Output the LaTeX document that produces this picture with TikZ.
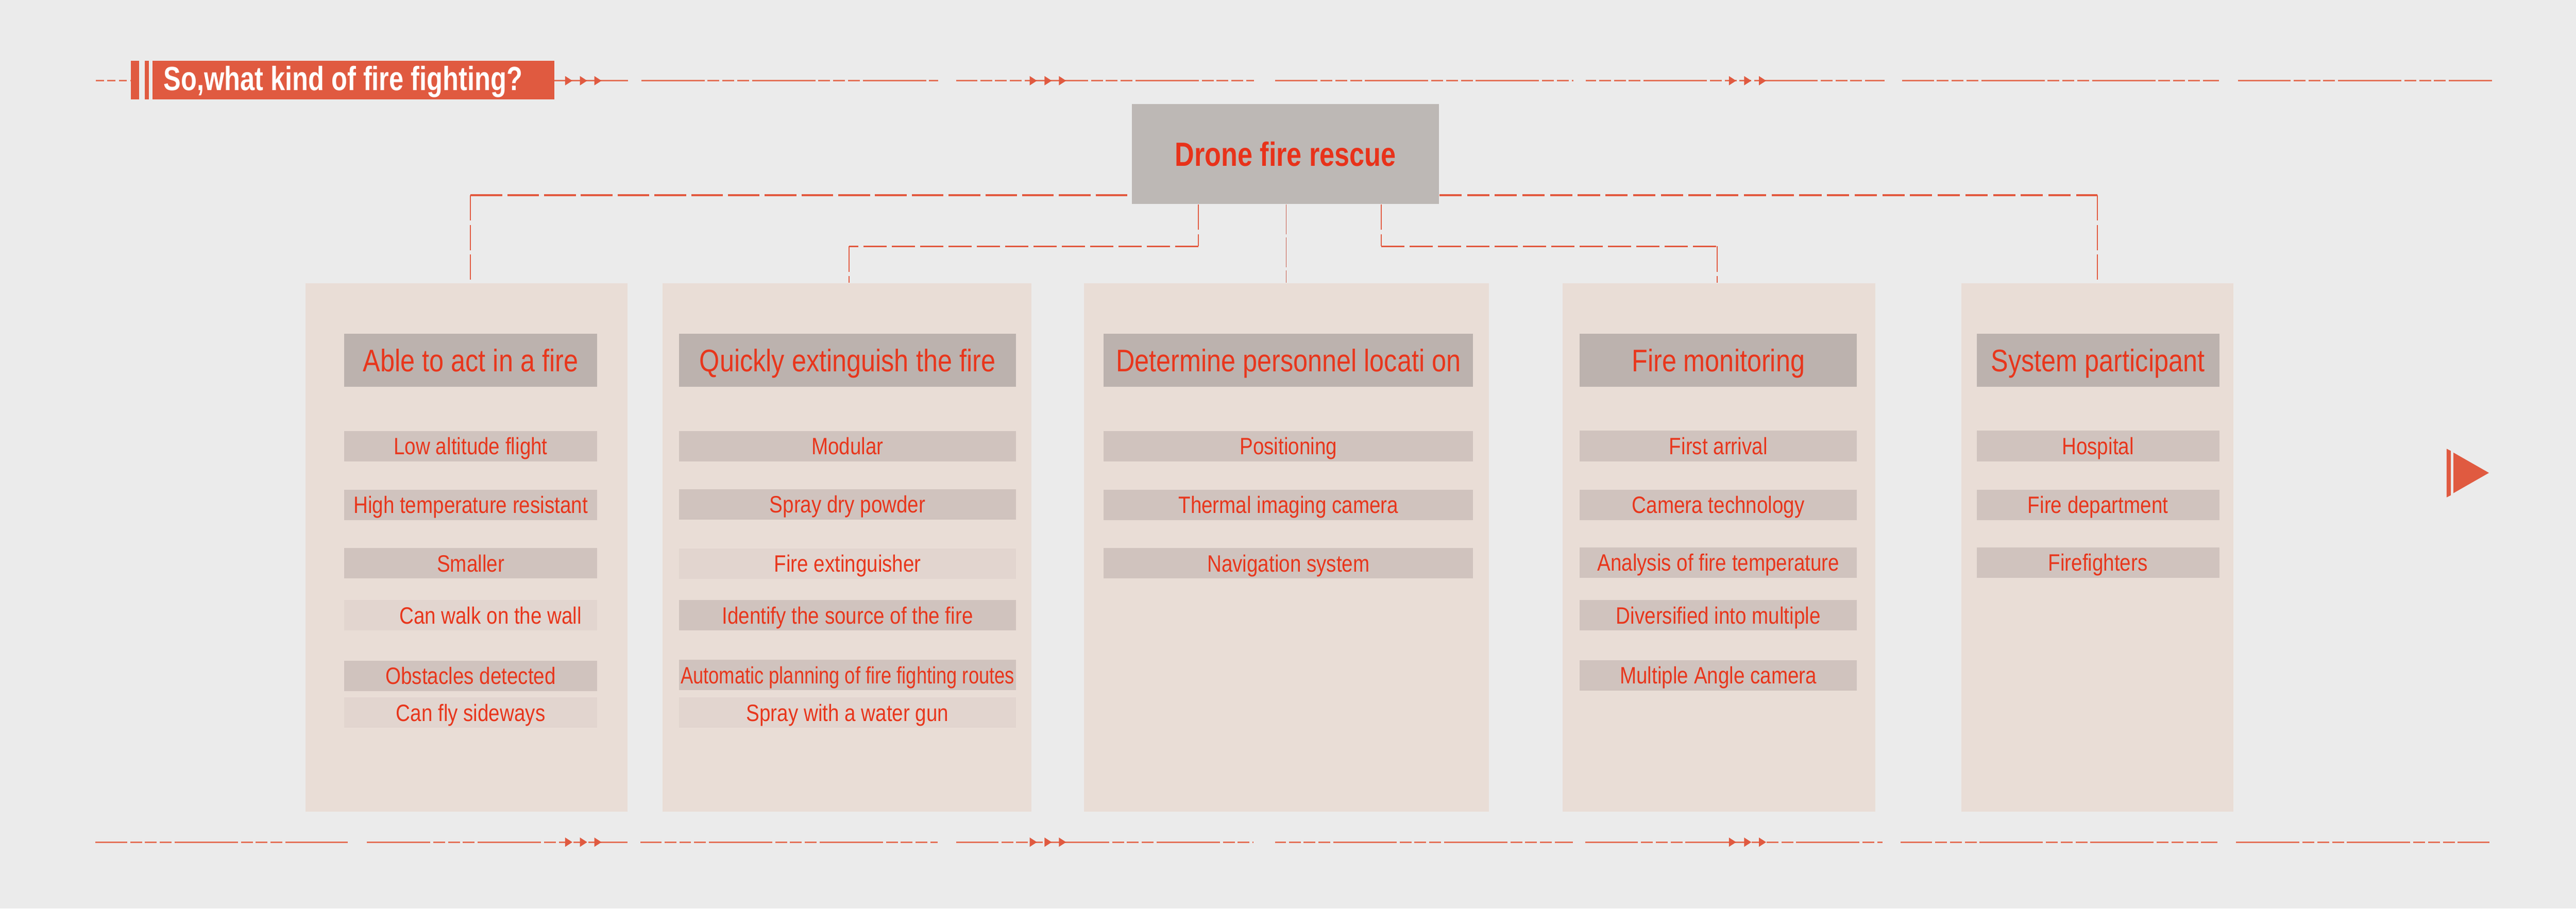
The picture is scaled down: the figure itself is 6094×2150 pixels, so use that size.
\documentclass[tikz,border=0pt]{standalone}
\usepackage{fontspec}
\setmainfont{Liberation Sans}
\newfontfamily\itemf{Liberation Sans}[FakeStretch=0.84]
\newfontfamily\itemnarrow{Liberation Sans}[FakeStretch=0.79]
\newfontfamily\headf{Liberation Sans}[FakeStretch=0.83]
\newfontfamily\dronef{Liberation Sans}[FakeStretch=0.80]
\newfontfamily\titlef{Liberation Sans}[FakeStretch=0.775]
\definecolor{bgc}{HTML}{EBEBEB}
\definecolor{colc}{HTML}{E9DDD6}
\definecolor{headc}{HTML}{BCB2AE}
\definecolor{dronec}{HTML}{BDB8B5}
\definecolor{itemd}{HTML}{D0C3BE}
\definecolor{iteml}{HTML}{E2D5CF}
\definecolor{txtr}{HTML}{E8361C}
\definecolor{droner}{HTML}{E8321A}
\definecolor{accent}{HTML}{E05A40}
\definecolor{decoc}{HTML}{E4735A}
\definecolor{connc}{HTML}{E25A40}
\definecolor{connmid}{HTML}{C85A48}
\begin{document}
\begin{tikzpicture}[x=0.2pt,y=-0.2pt,
  colbg/.style={fill=colc, inner sep=0pt, minimum height=250.2pt},
  hbox/.style={fill=headc, inner sep=0pt, minimum height=25pt, text=txtr,
    font=\headf\fontsize{14.8}{16}\selectfont, text height=10.6pt, text depth=0pt},
  ibox/.style={fill=itemd, inner sep=0pt, minimum height=14.4pt, text=txtr,
    font=\itemf\fontsize{11.2}{13}\selectfont, text height=8pt, text depth=0pt},
  ilight/.style={ibox, fill=iteml},
  wA/.style={minimum width=119.8pt},
  wB/.style={minimum width=159.6pt},
  wC/.style={minimum width=174.8pt},
  wD/.style={minimum width=131.2pt},
  wE/.style={minimum width=114.8pt},
  deco/.style={draw=decoc, line width=0.72pt,
    dash pattern=on 30pt off 1.4pt on 5.6pt off 1.4pt on 5.6pt off 1.4pt on 5.6pt off 1.4pt},
  tri/.style={fill=accent},
  hup/.style={draw=connc, line width=0.85pt, dash pattern=on 15pt off 2.4pt},
  hupr/.style={draw=connc, line width=0.85pt, dash pattern=on 10.5pt off 2.6pt},
  hlow/.style={draw=connc, line width=0.85pt, dash pattern=on 11pt off 2.4pt},
  vline/.style={draw=connc, line width=0.5pt, dash pattern=on 12pt off 2pt},
  vmid/.style={draw=connmid, line width=0.35pt, dash pattern=on 14pt off 1.6pt}
]
\useasboundingbox (0,0) rectangle (6094,2150);
\fill[bgc] (0,0) rectangle (6094,2150);

% decorative top and bottom lines
\draw[draw=decoc, line width=0.72pt, dash pattern=on 3.8pt off 1.6pt] (227,191) -- (312,191);
\draw[draw=decoc, line width=0.72pt] (1312,191) -- (1486,191);
\foreach \a/\b/\p in {1517/2219/0, 2262/2966/20, 3017/3722/10, 3751/4458/25, 4500/5249/15, 5294/5895/5}
  {\draw[deco, dash phase=\p pt] (\a,191) -- (\b,191);}
\foreach \a/\b/\p in {226/823/15, 868/1485/0, 1515/2218/20, 2262/2965/10, 3017/3721/25, 3750/4454/5, 4496/5246/15, 5290/5889/0}
  {\draw[deco, dash phase=\p pt] (\a,1993) -- (\b,1993);}
\foreach \x in {1337,1372,1406,2436,2471,2505,4090,4126,4161}
  {\fill[tri] (\x,180) -- (\x+17,191) -- (\x,202) -- cycle;
   \fill[tri] (\x,1982) -- (\x+17,1993) -- (\x,2004) -- cycle;}

% title banner
\node[fill=accent, inner sep=0pt, minimum width=3.8pt, minimum height=18.2pt] (bar1) at (319.5,189.5) {};
\node[fill=accent, inner sep=0pt, minimum width=1.8pt, minimum height=18.2pt] (bar2) at (347.5,189.5) {};
\node[fill=accent, inner sep=0pt, minimum width=190.2pt, minimum height=18.2pt] (banner) at (836.5,189.5) {};
\node[anchor=west, inner sep=0pt, text=white, font=\titlef\bfseries\fontsize{15.9}{18}\selectfont,
  text height=11.4pt, text depth=0pt] (title) at (386,185) {So,what kind of fire fighting?};

% columns
\node[colbg, minimum width=152.4pt] (col1) at (1104,1295.5) {};
\node[colbg, minimum width=174.6pt] (col2) at (2003.5,1295.5) {};
\node[colbg, minimum width=191.6pt] (col3) at (3043,1295.5) {};
\node[colbg, minimum width=147.8pt] (col4) at (4066.5,1295.5) {};
\node[colbg, minimum width=128.6pt] (col5) at (4961.5,1295.5) {};

% connector joints
\coordinate (jL) at (1113,462);
\coordinate (jR) at (4962,462);
\coordinate (jLa) at (2835,583);
\coordinate (jLb) at (2008,583);
\coordinate (jRa) at (3268,583);
\coordinate (jRb) at (4062,583);

% drone box
\node[fill=dronec, inner sep=0pt, minimum width=145.2pt, minimum height=47.4pt, text=droner,
  font=\dronef\bfseries\fontsize{15.9}{18}\selectfont, text height=11.4pt, text depth=0pt]
  (drone) at (3041,364.5) {Drone fire rescue};

\draw[hup] (jL) -- (drone.west |- jL);
\draw[hupr] (drone.east |- jR) -- (jR);
\draw[vline] (jL) -- (jL |- col1.north);
\draw[vline] (jR) -- (jR |- col5.north);
\draw[vline] (drone.south -| jLa) -- (jLa);
\draw[hlow] (jLa) -- (jLb);
\draw[vline] (jLb) -- (jLb |- col2.north);
\draw[vline] (drone.south -| jRa) -- (jRa);
\draw[hlow] (jRa) -- (jRb);
\draw[vline] (jRb) -- (jRb |- col4.north);
\draw[vmid] (drone.south -| col3.north) -- (col3.north);

% headers
\node[hbox, wA] (h1) at (1113.5,852.5) {Able to act in a fire};
\node[hbox, wB] (h2) at (2005,852.5) {Quickly extinguish the fire};
\node[hbox, wC] (h3) at (3048,852.5) {Determine personnel locati on};
\node[hbox, wD] (h4) at (4065,852.5) {Fire monitoring};
\node[hbox, wE] (h5) at (4963,852.5) {System participant};

% column 1 items
\node[ibox, wA] (a1) at (1113.5,1056) {Low altitude flight};
\node[ibox, wA] (a2) at (1113.5,1194.5) {High temperature resistant};
\node[ibox, wA] (a3) at (1113.5,1333) {Smaller};
\node[ilight, wA] (a4) at (1113.5,1456) {\hspace*{18.8pt}Can walk on the wall};
\node[ibox, wA] (a5) at (1113.5,1599.5) {Obstacles detected};
\node[ilight, wA] (a6) at (1113.5,1686.5) {Can fly sideways};

% column 2 items
\node[ibox, wB] (b1) at (2005,1056) {Modular};
\node[ibox, wB] (b2) at (2005,1193.5) {Spray dry powder};
\node[ilight, wB] (b3) at (2005,1333.5) {Fire extinguisher};
\node[ibox, wB] (b4) at (2005,1456) {Identify the source of the fire};
\node[ibox, wB, font=\itemnarrow\fontsize{11.2}{13}\selectfont] (b5) at (2005,1597.5) {Automatic planning of fire fighting routes};
\node[ilight, wB] (b6) at (2005,1686.5) {Spray with a water gun};

% column 3 items
\node[ibox, wC] (c1) at (3048,1056) {Positioning};
\node[ibox, wC] (c2) at (3048,1195) {Thermal imaging camera};
\node[ibox, wC] (c3) at (3048,1333) {Navigation system};

% column 4 items
\node[ibox, wD] (d1) at (4065,1055.5) {First arrival};
\node[ibox, wD] (d2) at (4065,1194.5) {Camera technology};
\node[ibox, wD] (d3) at (4065,1331.5) {Analysis of fire temperature};
\node[ibox, wD] (d4) at (4065,1456) {Diversified into multiple};
\node[ibox, wD] (d5) at (4065,1598.5) {Multiple Angle camera};

% column 5 items
\node[ibox, wE] (e1) at (4963,1055.5) {Hospital};
\node[ibox, wE] (e2) at (4963,1194.5) {Fire department};
\node[ibox, wE] (e3) at (4963,1331.5) {Firefighters};

% right play icon
\fill[accent] (5788,1062) -- (5798,1067) -- (5798,1172) -- (5788,1177) -- cycle;
\fill[accent] (5804,1071) -- (5888,1119) -- (5804,1167) -- cycle;
\end{tikzpicture}
\end{document}
